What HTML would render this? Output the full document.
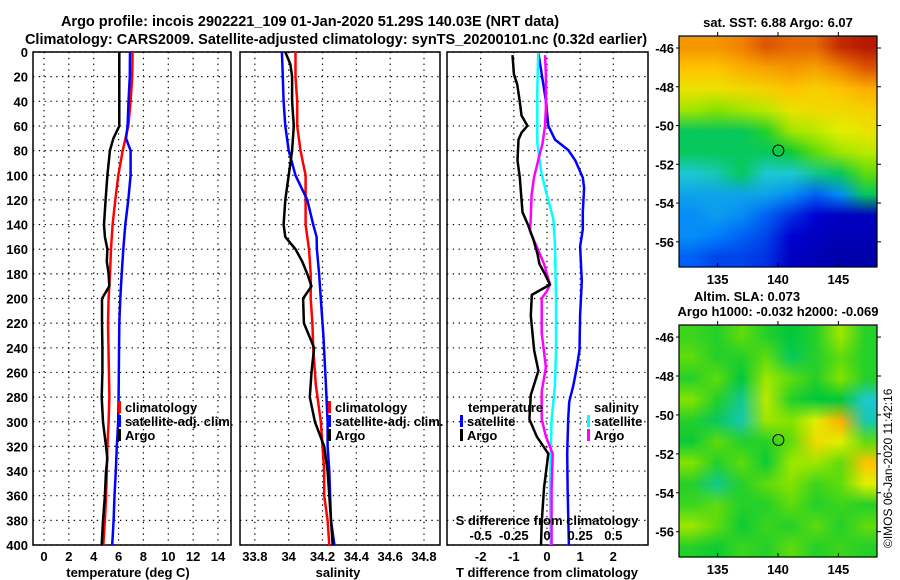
<!DOCTYPE html>
<html><head><meta charset="utf-8">
<style>
html,body{margin:0;padding:0;background:#fff;}
#wrap{position:relative;width:900px;height:580px;overflow:hidden;font-family:"Liberation Sans",Arial,sans-serif;}
svg text{font-family:"Liberation Sans",Arial,sans-serif;font-weight:bold;}
canvas{position:absolute;image-rendering:auto;}
</style></head>
<body>
<div id="wrap">
<svg id="svg" width="900" height="580" viewBox="0 0 900 580" style="position:absolute;left:0;top:0">
<text x="310" y="26" font-size="14.5" text-anchor="middle">Argo profile: incois 2902221_109 01-Jan-2020 51.29S 140.03E (NRT data)</text>
<text x="336" y="44" font-size="14.5" text-anchor="middle">Climatology: CARS2009. Satellite-adjusted climatology: synTS_20200101.nc (0.32d earlier)</text>
<g id="g"></g>
</svg>
</div>
<script>
// ---------- data ----------
const depthTicks=[0,20,40,60,80,100,120,140,160,180,200,220,240,260,280,300,320,340,360,380,400];
const tempTicks=[0,2,4,6,8,10,12,14];
const salTicks=[33.8,34,34.2,34.4,34.6,34.8];
const salTickLabels=["33.8","34","34.2","34.4","34.6","34.8"];
const tdTicks=[-2,-1,0,1,2];
const sdTicks=[-0.5,-0.25,0,0.25,0.5];
const sdTickLabels=["-0.5","-0.25","0","0.25","0.5"];

const tArgoDepth=[0,20,40,60,70,80,100,120,140,150,160,170,180,190,200,220,240,260,280,300,320,330,340,360,380,400];
const tArgo=[6.06,6.06,6.06,6.06,5.58,5.3,5.1,4.96,4.83,4.9,5.1,5.05,5.2,5.25,4.67,4.67,4.7,4.7,4.64,4.75,4.99,5.1,4.99,4.9,4.75,4.64];
const tClimDepth=[0,20,40,60,80,100,120,140,160,180,200,220,280,300,320,340,360,380,400];
const tClim=[7.13,7.1,6.97,6.78,6.33,5.98,5.74,5.52,5.39,5.31,5.2,5.15,5.26,5.2,5.1,5.05,5.0,4.9,4.77];
const tSatDepth=[0,20,40,60,70,80,100,120,140,160,180,200,220,280,300,320,340,360,380,400];
const tSat=[6.92,6.9,6.8,6.73,6.6,6.97,6.97,6.78,6.54,6.38,6.25,6.14,6.06,6.0,5.97,5.86,5.78,5.67,5.6,5.49];

const sArgoDepth=[0,10,20,40,60,80,90,100,120,140,150,160,170,180,190,200,220,240,260,280,300,320,340,360,380,400];
const sArgo=[33.98,34.01,34.02,34.02,34.03,34.02,34.01,34.0,33.98,33.97,33.98,34.04,34.08,34.11,34.135,34.085,34.09,34.15,34.135,34.125,34.155,34.21,34.23,34.24,34.25,34.26];
const sClimDepth=[0,20,40,60,80,100,120,140,160,180,200,220,240,270,280,300,320,340,360,380,400];
const sClim=[34.04,34.04,34.05,34.05,34.07,34.1,34.1,34.1,34.12,34.13,34.13,34.14,34.145,34.16,34.17,34.19,34.2,34.21,34.21,34.23,34.24];
const sSatDepth=[0,20,40,60,80,100,120,140,150,160,180,200,220,230,270,300,320,340,360,380,400];
const sSat=[33.96,33.965,33.97,33.98,34.0,34.04,34.11,34.145,34.165,34.167,34.18,34.19,34.2,34.205,34.22,34.23,34.23,34.24,34.245,34.25,34.27];

const dTArgoDepth=[2.5,17.9,26.3,40.3,51.5,59.9,65.5,71.1,87.9,101.9,129.9,141.1,152.3,163.5,171.9,180.3,188.7,197.1,213.9,241.9,258.7,278.3,297.9,311.9,325.9,353.9,381.9,400];
const dTArgo=[-1.04,-1.0,-0.9,-0.82,-0.77,-0.59,-0.77,-0.86,-0.89,-0.82,-0.74,-0.56,-0.41,-0.29,-0.23,-0.06,0.09,-0.46,-0.49,-0.39,-0.26,-0.49,-0.53,-0.31,0.04,-0.09,-0.16,-0.18];
const dTSatDepth=[1,17.9,40.3,59.9,71.1,79.5,87.9,101.9,110.3,129.9,143.9,157.9,185.9,213.9,241.9,255.9,269.9,283.9,297.9,325.9,353.9,400];
const dTSat=[-0.26,-0.16,-0.03,0.04,0.24,0.64,0.85,1.08,1.12,1.08,1.08,1.0,1.05,1.0,0.98,0.9,0.8,0.67,0.64,0.61,0.62,0.66];
const dSSatDepth=[1,31.9,73.9,96.3,113.1,135.5,157.9,199.9,241.9,269.9,297.9,325.9,353.9,400];
const dSSat=[-0.066,-0.073,-0.073,-0.045,-0.008,0.048,0.06,0.068,0.068,0.06,0.035,0.028,0.023,0.028];
const dSArgoDepth=[2.5,17.9,45.9,59.9,73.9,87.9,101.9,115.9,135.5,145.3,157.9,171.9,188.7,194.3,199.9,227.9,255.9,275.5,297.9,311.9,325.9,353.9,400];
const dSArgo=[-0.015,-0.008,-0.008,-0.015,-0.033,-0.066,-0.098,-0.116,-0.123,-0.128,-0.078,-0.023,0.023,-0.003,-0.04,-0.04,-0.008,-0.04,-0.04,-0.008,0.043,0.035,0.035];

const sstGrid=[
[0.82,0.82,0.85,0.9,0.88,0.88,0.95,0.97],
[0.75,0.75,0.78,0.8,0.82,0.8,0.85,0.9],
[0.68,0.68,0.7,0.72,0.75,0.72,0.75,0.78],
[0.6,0.58,0.6,0.62,0.68,0.7,0.7,0.72],
[0.45,0.45,0.45,0.5,0.6,0.62,0.65,0.68],
[0.45,0.45,0.45,0.45,0.48,0.55,0.6,0.62],
[0.38,0.4,0.45,0.38,0.38,0.42,0.45,0.55],
[0.33,0.33,0.33,0.33,0.3,0.25,0.3,0.45],
[0.3,0.32,0.3,0.25,0.2,0.15,0.12,0.12],
[0.3,0.28,0.25,0.22,0.15,0.12,0.1,0.1],
[0.25,0.22,0.22,0.2,0.12,0.1,0.08,0.08]];
const slaGrid=[
[0.52,0.5,0.55,0.5,0.47,0.5,0.6,0.5],
[0.55,0.5,0.5,0.55,0.45,0.5,0.55,0.5],
[0.5,0.55,0.47,0.6,0.55,0.5,0.58,0.5],
[0.58,0.5,0.42,0.62,0.5,0.47,0.47,0.38],
[0.5,0.45,0.4,0.6,0.58,0.65,0.78,0.4],
[0.48,0.55,0.5,0.5,0.55,0.7,0.65,0.55],
[0.58,0.5,0.55,0.48,0.6,0.6,0.55,0.75],
[0.5,0.42,0.5,0.55,0.58,0.52,0.55,0.65],
[0.52,0.55,0.5,0.5,0.55,0.5,0.52,0.5],
[0.6,0.55,0.48,0.52,0.5,0.55,0.5,0.55],
[0.5,0.48,0.52,0.5,0.55,0.5,0.52,0.5]];

// ---------- helpers ----------
const NS="http://www.w3.org/2000/svg";
const G=document.getElementById('g');
function mk(tag,attrs,parent){const e=document.createElementNS(NS,tag);for(const k in attrs)e.setAttribute(k,attrs[k]);(parent||G).appendChild(e);return e;}
const Y0=52,Y1=545;
const yD=d=>Y0+d*(Y1-Y0)/400;
function lin(d0,d1,r0,r1){return v=>r0+(v-d0)*(r1-r0)/(d1-d0);}

function panel(name,x0,x1,xScale,ticks,labels,showYLabels){
  const g=mk('g',{});
  
  
  depthTicks.forEach(d=>{
    const l=mk('line',{x1:x0,x2:x1,y1:yD(d),y2:yD(d),stroke:'#000','stroke-width':1.2,'stroke-dasharray':'1.3 4.5'},g);
    
    
    if(showYLabels){
      const t=mk('text',{x:28,y:yD(d)+5,'font-size':13,'text-anchor':'end'},g);
      t.textContent=d;
      
      
    }
  });
  ticks.forEach((v,i)=>{
    const x=xScale(v);
    const l=mk('line',{x1:x,x2:x,y1:Y0,y2:Y1,stroke:'#000','stroke-width':1.2,'stroke-dasharray':'1.3 4.5'},g);
    
    
    if(labels){
      const t=mk('text',{x:x,y:561,'font-size':13,'text-anchor':'middle'},g);
      t.textContent=labels[i];
      
      
    }
  });
  const r=mk('rect',{x:x0,y:Y0,width:x1-x0,height:Y1-Y0,fill:'none',stroke:'#000','stroke-width':1.5},g);
  
  
  return g;
}
function series(g,name,depths,vals,xs,color,w){
  const pts=depths.map((d,i)=>xs(vals[i]).toFixed(1)+','+yD(d).toFixed(1)).join(' ');
  const p=mk('polyline',{points:pts,fill:'none',stroke:color,'stroke-width':w,'stroke-linejoin':'round'},g);
  
  
}
function legendItem(g,name,x,y,color,label){
  const r=mk('rect',{x:x,y:y-11,width:3,height:12,fill:color},g);
  
  
  const t=mk('text',{x:x+7,y:y,'font-size':13},g);
  t.textContent=label;
  
  
}
function txt(g,name,x,y,s,size,anchor){
  const t=mk('text',{x:x,y:y,'font-size':size||13,'text-anchor':anchor||'middle'},g);
  t.textContent=s;
  
  
  return t;
}

// ---------- temperature panel ----------
const xT=lin(0,14,44,218);
const gT=panel('temperature-panel',33,231,xT,tempTicks,tempTicks.map(String),true);
series(gT,'temp-climatology-line',tClimDepth,tClim,xT,'#ff0000',2.5);
series(gT,'temp-satellite-line',tSatDepth,tSat,xT,'#0000ff',2.5);
series(gT,'temp-argo-line',tArgoDepth,tArgo,xT,'#000',2.5);
legendItem(gT,'legend-climatology',118,412,'#ff0000','climatology');
legendItem(gT,'legend-satellite-adj',118,426,'#0000ff','satellite-adj. clim.');
legendItem(gT,'legend-argo',118,440,'#000','Argo');
txt(gT,'x-axis-title-temperature',128,577,'temperature (deg C)',13);

// ---------- salinity panel ----------
const xS=lin(34,34.8,288.7,424);
const gS=panel('salinity-panel',240,440,xS,salTicks,salTickLabels,false);
series(gS,'sal-climatology-line',sClimDepth,sClim,xS,'#ff0000',2.5);
series(gS,'sal-satellite-line',sSatDepth,sSat,xS,'#0000ff',2.5);
series(gS,'sal-argo-line',sArgoDepth,sArgo,xS,'#000',2.5);
legendItem(gS,'legend-climatology-sal',328,412,'#ff0000','climatology');
legendItem(gS,'legend-satellite-adj-sal',328,426,'#0000ff','satellite-adj. clim.');
legendItem(gS,'legend-argo-sal',328,440,'#000','Argo');
txt(gS,'x-axis-title-salinity',338,577,'salinity',13);

// ---------- difference panel ----------
const xDT=lin(-2,2,480.7,613.3);
const xDS=lin(-0.5,0.5,480.7,613.3);
const gD=panel('difference-panel',447,648,xDT,tdTicks,tdTicks.map(String),false);
series(gD,'diff-t-satellite-line',dTSatDepth,dTSat,xDT,'#0000ff',2.5);
series(gD,'diff-s-satellite-line',dSSatDepth,dSSat,xDS,'#00ffff',2.5);
series(gD,'diff-s-argo-line',dSArgoDepth,dSArgo,xDS,'#ff00ff',2.5);
series(gD,'diff-t-argo-line',dTArgoDepth,dTArgo,xDT,'#000',2.5);
txt(gD,'legend-temperature-heading',468,412,'temperature',13,'start');
legendItem(gD,'legend-t-satellite',460,426,'#0000ff','satellite');
legendItem(gD,'legend-t-argo',460,440,'#000','Argo');
txt(gD,'legend-salinity-heading',594,412,'salinity',13,'start');
legendItem(gD,'legend-s-satellite',587,426,'#00ffff','satellite');
legendItem(gD,'legend-s-argo',587,440,'#ff00ff','Argo');
txt(gD,'s-axis-title',547,525,'S difference from climatology',13);
sdTicks.forEach((v,i)=>{txt(gD,'s-tick-label',xDS(v),540,sdTickLabels[i],13);});
txt(gD,'x-axis-title-t-difference',547,577,'T difference from climatology',13);

// ---------- maps ----------
const stops=[[0,[0,0,127]],[0.15,[0,0,210]],[0.28,[0,128,255]],[0.38,[30,200,210]],[0.47,[0,200,60]],[0.57,[120,225,0]],[0.65,[225,240,0]],[0.75,[255,195,0]],[0.85,[240,130,0]],[0.93,[210,60,0]],[1,[160,0,0]]];
function cmap(v){for(let i=1;i<stops.length;i++){if(v<=stops[i][0]){const a=stops[i-1],b=stops[i];const t=(v-a[0])/(b[0]-a[0]);return a[1].map((c,k)=>Math.round(c+(b[1][k]-c)*t));}}return stops[stops.length-1][1];}
const wrap=document.getElementById('wrap');
function drawMap(name,grid,x0,y0,w,h,latTop,latBot,title1,title2,t1y,t2y){
  const c=document.createElement('canvas');
  c.width=grid[0].length;c.height=grid.length;
  c.style.left=x0+'px';c.style.top=y0+'px';c.style.width=w+'px';c.style.height=h+'px';
  
  
  const ctx=c.getContext('2d');const im=ctx.createImageData(c.width,c.height);
  grid.forEach((row,r)=>row.forEach((v,k)=>{const col=cmap(v);const o=(r*c.width+k)*4;im.data[o]=col[0];im.data[o+1]=col[1];im.data[o+2]=col[2];im.data[o+3]=255;}));
  ctx.putImageData(im,0,0);
  wrap.insertBefore(c,wrap.firstChild.nextSibling);
  const g=mk('g',{});
  
  
  const fr=mk('rect',{x:x0,y:y0,width:w,height:h,fill:'none',stroke:'#000','stroke-width':1.2},g);
  
  
  const yl=lin(latTop,latBot,y0,y0+h);
  const xl=lin(131.8,148.2,x0,x0+w);
  [-46,-48,-50,-52,-54,-56].forEach(L=>{
    mk('line',{x1:x0+w,x2:x0+w+4,y1:yl(L),y2:yl(L),stroke:'#000'},g);
    mk('line',{x1:x0-3,x2:x0,y1:yl(L),y2:yl(L),stroke:'#000'},g);
    txt(g,'lat-tick-label',x0-5,yl(L)+5,String(L),13,'end');
  });
  [135,140,145].forEach(L=>{
    mk('line',{x1:xl(L),x2:xl(L),y1:y0,y2:y0-4,stroke:'#000'},g);
    mk('line',{x1:xl(L),x2:xl(L),y1:y0+h,y2:y0+h-4,stroke:'#000'},g);
    txt(g,'lon-tick-label',xl(L),y0+h+17,String(L),13);
  });
  const ci=mk('circle',{cx:xl(140.03),cy:yl(-51.29),r:5.5,fill:'none',stroke:'#000','stroke-width':1},g);
  
  
  if(title1)txt(g,name+'-title',title1[1],t1y,title1[0],13);
  if(title2)txt(g,name+'-subtitle',title2[1],t2y,title2[0],13);
}
drawMap('sst-map',sstGrid,679,36,198,231,-45.38,-57.3,['sat. SST: 6.88 Argo: 6.07',778],null,27,0);
drawMap('sla-map',slaGrid,679,325,198,232,-45.38,-57.3,['Altim. SLA: 0.073',747],['Argo h1000: -0.032 h2000: -0.069',778],301,316);
const cr=mk('text',{x:0,y:0,'font-size':12,transform:'translate(892,548) rotate(-90)'});
cr.setAttribute('style','font-weight:normal');
cr.textContent='©IMOS 06-Jan-2020 11:42:16';


</script>
</body></html>
